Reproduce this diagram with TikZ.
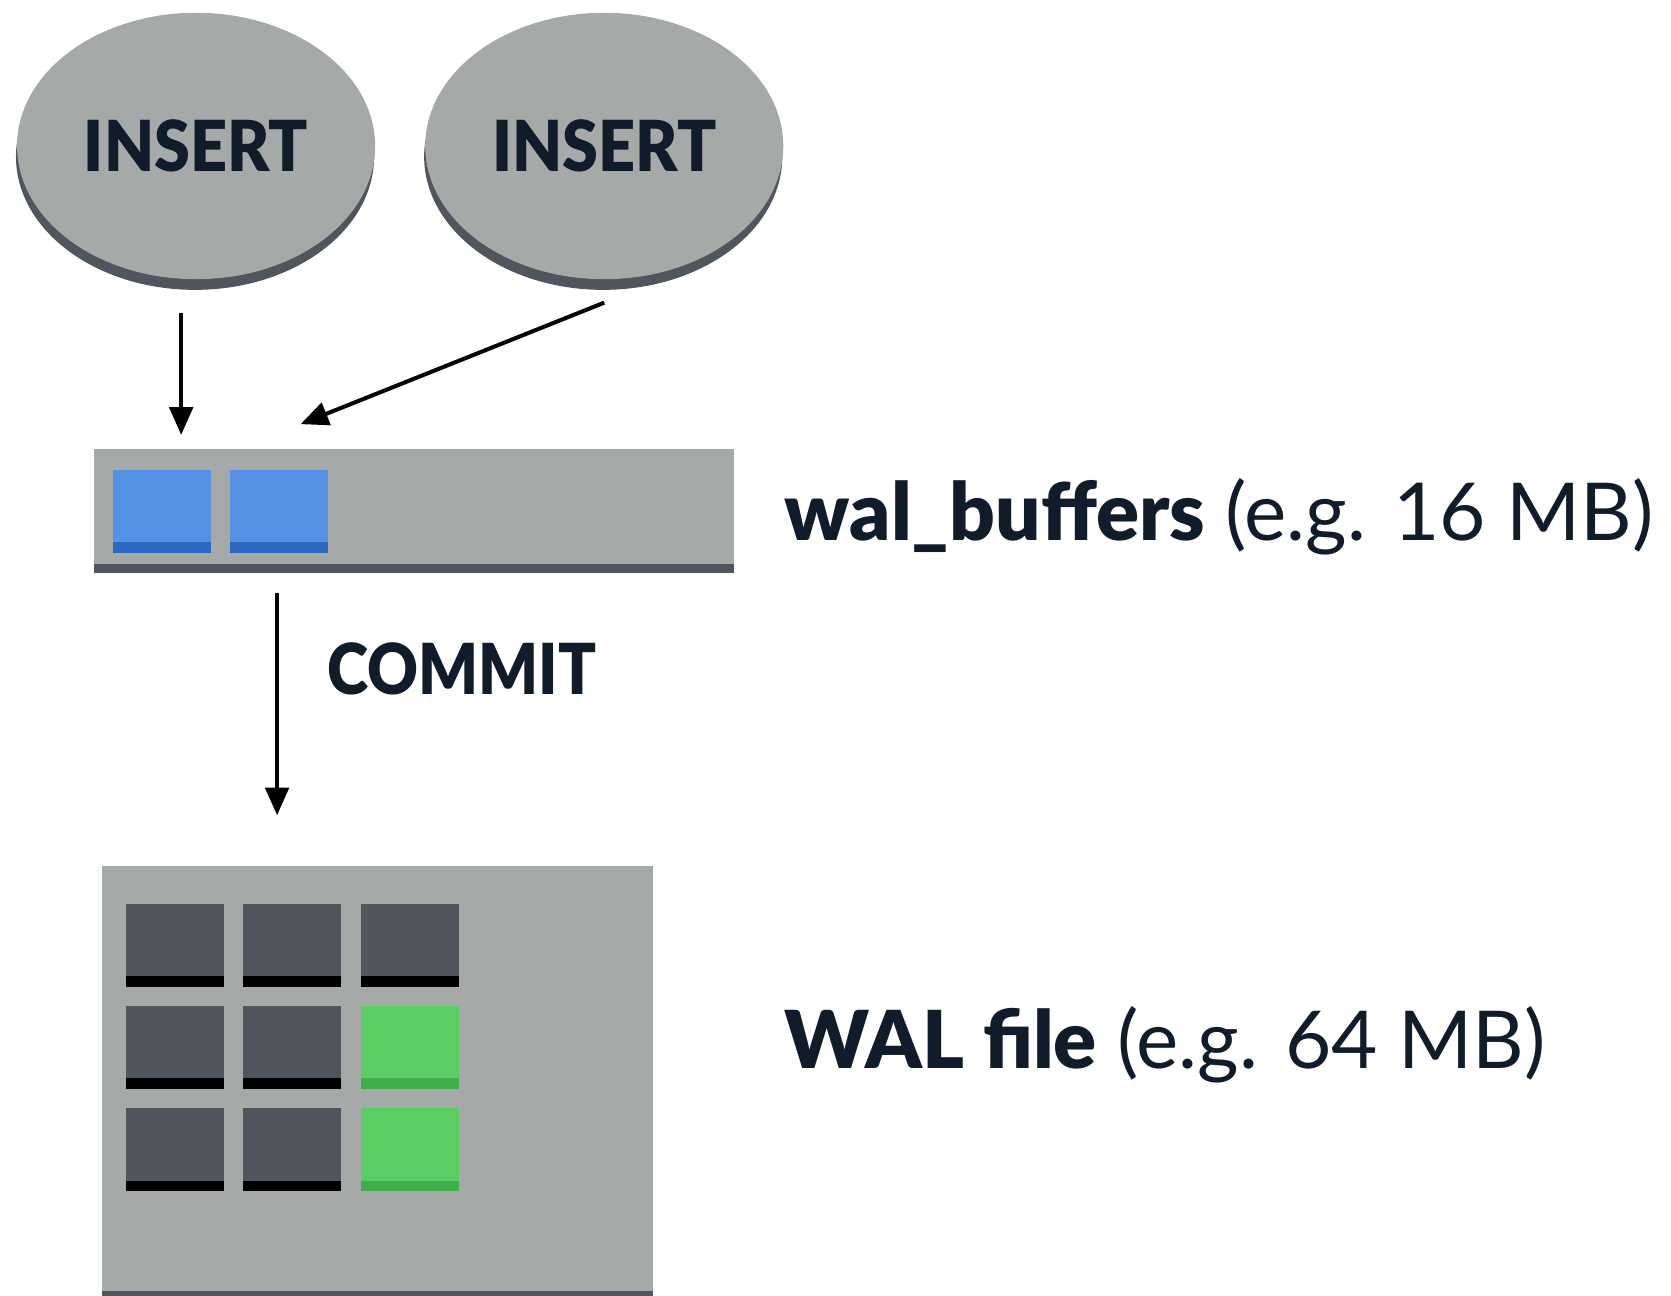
\documentclass[tikz,border=0pt]{standalone}
\usepackage{fontspec}
\setmainfont{Lato}
\newfontfamily\lightf{Lato}
\newfontfamily\heavyf{Lato Black}
\newfontfamily\heavyn[FakeStretch=0.92]{Lato Black}
\newfontfamily\heavyc[FakeStretch=0.89]{Lato Black}
\usetikzlibrary{arrows.meta,shapes.geometric}
\definecolor{panel}{HTML}{A5A9A8}
\definecolor{darkc}{HTML}{50555E}
\definecolor{ink}{HTML}{111C2A}
\definecolor{bluec}{HTML}{5592E6}
\definecolor{blued}{HTML}{2B68C0}
\definecolor{greenc}{HTML}{5BCD65}
\definecolor{greend}{HTML}{40AF4A}
\tikzset{
  insert/.style={ellipse, fill=panel, minimum width=168pt, minimum height=125pt, inner sep=0pt,
    font=\fontsize{33}{33}\heavyn, text=ink},
  flow/.style={line width=1.9pt, -{Triangle[length=13pt,width=11pt]}},
  label/.style={anchor=base west, text=ink, inner sep=0pt},
  panelbox/.style={fill=panel, inner sep=0pt},
}
\begin{document}
\begin{tikzpicture}[x=0.5pt,y=-0.5pt]
\useasboundingbox (0,0) rectangle (1568,1216);

% INSERT ellipses with shadows
\fill[darkc] (183,147) ellipse [x radius=84pt, y radius=62.5pt];
\fill[darkc] (566,147) ellipse [x radius=84pt, y radius=62.5pt];
\node[insert] (ins1) at (184,137) {INSERT};
\node[insert] (ins2) at (567,137) {INSERT};

% wal_buffers panel
\node[panelbox, minimum width=300.5pt, minimum height=58.5pt] (buf) at (388.5,479.5) {};
\fill[darkc] (88,529) rectangle (689,538);
\fill[bluec] (106,441) rectangle (198,519);
\fill[blued] (106,509) rectangle (198,519);
\fill[bluec] (216,441) rectangle (308,519);
\fill[blued] (216,509) rectangle (308,519);

% WAL file panel
\node[panelbox, minimum width=258.5pt, minimum height=201.5pt] (wal) at (354.5,1014.5) {};
\fill[darkc] (96,1211) rectangle (613,1216);
\foreach \x/\y/\c/\d in {118/848/darkc/black, 228/848/darkc/black, 339/848/darkc/black,
                         118/944/darkc/black, 228/944/darkc/black, 339/944/greenc/greend,
                         118/1040/darkc/black, 228/1040/darkc/black, 339/1040/greenc/greend}{
  \fill[\c] (\x,\y) rectangle ++(92,78);
  \fill[\d] (\x,\y+68) rectangle ++(92,10);
}

% connector end points
\coordinate (a1s) at (170,294);
\coordinate (a1e) at (170,408);
\coordinate (a2s) at (567,284);
\coordinate (a2e) at (282,398);
\coordinate (a3s) at (260,556);
\coordinate (a3e) at (260,765);
\draw[flow] (a1s) -- (a1e);
\draw[flow] (a2s) -- (a2e);
\draw[flow] (a3s) -- (a3e);

\node[label, font=\fontsize{33}{33}\heavyc] (commit) at (307,652) {COMMIT};

% labels
\node[label, font=\fontsize{37.5}{37.5}\selectfont] (bufl) at (736,507)
  {{\heavyf wal\_buffers} {\lightf (e.g. 16 MB)}};
\node[label, font=\fontsize{37.5}{37.5}\selectfont] (wall) at (736,1003)
  {{\heavyf WAL file} {\lightf (e.g. 64 MB)}};
\end{tikzpicture}
\end{document}
